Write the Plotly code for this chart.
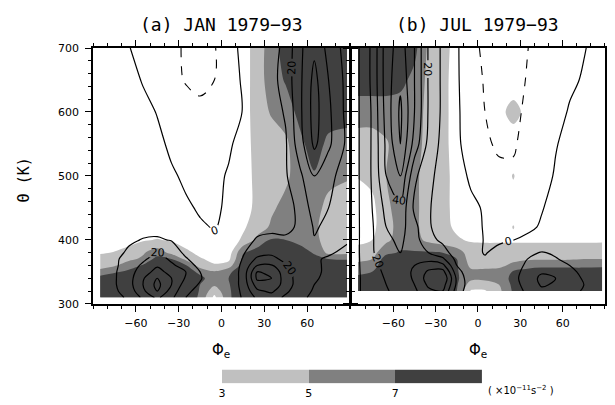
import plotly.graph_objects as go

# ---------------- data ----------------
lat = [-85, -75, -65, -55, -45, -35, -25, -15, -5, 5, 15, 25, 35, 45, 55, 65, 75, 88]

theta_jan = [310, 320, 330, 340, 350, 360, 370, 380, 400, 420, 450, 500, 550, 600, 650, 700]
shade_jan = [
    [8, 9, 9, 9, 9, 9, 9, 6.5, 2.5, 6.5, 9, 9, 9, 9, 9, 9, 9, 9],
    [8, 9, 9, 9, 9, 9, 9, 6.8, 3.8, 6.6, 9, 9, 9, 9, 9, 9, 9, 9],
    [8, 9, 9, 9, 9, 9, 9, 7.0, 5.3, 6.8, 9, 9, 9, 9, 9, 9, 9, 9],
    [8, 9, 9, 9, 9, 9, 9, 7.5, 6.0, 7.0, 9, 9, 9, 9, 9, 9, 9, 9],
    [5.5, 6.6, 7.5, 8.5, 9, 9, 8, 6.5, 5.2, 6.5, 8.5, 9, 9, 9, 9, 9, 9, 9],
    [4.4, 4.8, 6, 7.2, 8.5, 8, 7.2, 4, 3.2, 4, 8, 9, 9, 9, 9, 8.5, 8, 8],
    [3.8, 4.4, 4.6, 5.3, 7.8, 7, 4.5, 3.2, 2.5, 2.5, 7.5, 8.5, 8.5, 8.5, 8.5, 7.6, 7, 6.9],
    [2.8, 3.1, 3.8, 4.8, 6, 4.5, 3.5, 2.5, 2, 2, 6.8, 8, 8.5, 8.5, 8, 6.8, 4.5, 4.5],
    [2, 2, 2.2, 2.8, 3.1, 2.8, 2, 2, 2, 2, 3.3, 5.5, 7.2, 7, 6.3, 5.5, 4.2, 4],
    [2, 2, 2, 2, 2, 2, 2, 2, 2, 2, 2.7, 4, 5.3, 6, 6, 5.4, 4, 4],
    [2, 2, 2, 2, 2, 2, 2, 2, 2, 2, 2, 3.6, 4.7, 5.6, 6, 5.6, 4.5, 4],
    [2, 2, 2, 2, 2, 2, 2, 2, 2, 2, 2, 3.6, 4, 4.6, 6, 6.8, 5.5, 5.2],
    [2, 2, 2, 2, 2, 2, 2, 2, 2, 2, 2, 3.8, 4, 4.6, 6.5, 8, 6.5, 6],
    [2, 2, 2, 2, 2, 2, 2, 2, 2, 2, 2, 4, 5.2, 6, 7.6, 9, 8, 8],
    [2, 2, 2, 2, 2, 2, 2, 2, 2, 2, 2, 4, 6, 7.2, 8, 9, 8, 8],
    [2, 2, 2, 2, 2, 2, 2, 2, 2, 2, 2, 4, 6, 8, 8, 9, 8, 8],
]
wind_jan = [
    [5, 8, 11, 22, 32, 22, 10, 5, 3, 3, 11, 22, 25, 18, 12, 8, 5, 3],
    [5, 8.5, 14, 28, 40, 26, 12, 7, 3, 3, 12, 28, 32, 22, 14, 9, 6, 4],
    [5, 9, 16, 30, 43, 30, 15, 9, 3, 3, 13, 35, 38, 25, 15, 10, 7, 5],
    [5, 9, 16, 29, 40, 30, 19, 11, 3, 3, 13, 42, 40, 25, 15, 11, 8, 6],
    [5, 9, 15, 26, 33, 27, 20, 10, 3, 3, 13, 40, 38, 24, 15, 11, 9, 7],
    [5, 8.5, 14, 22, 29, 22, 15, 7, 2.5, 3, 12, 30, 31, 21, 14, 11, 9, 7],
    [5, 8.5, 13, 18, 25, 18, 11, 5, 2, 2.5, 10.5, 22, 23, 17, 13, 11, 9, 7],
    [6, 8, 11, 14, 21, 15, 8, 3, 1.5, 2, 9, 16, 18, 14, 12, 13, 11, 8],
    [7, 7.5, 9, 10.3, 11, 9.5, 5, 2, 0.5, 2, 6, 11, 12, 11, 11.5, 19.5, 15, 11],
    [8, 8, 8.5, 8, 7, 5, 2.5, 0.6, -0.3, 1.2, 4, 7, 8, 8.5, 11, 21, 18, 13],
    [8.5, 8.5, 8, 6, 4.5, 2.5, 0.8, -0.6, -0.6, 0.6, 3, 5.5, 7.5, 7, 12, 25, 20, 14],
    [9, 8, 6, 4, 2.5, 0.8, -1, -2, -1.3, 0.5, 3, 6, 8, 9, 18, 30, 23, 15],
    [9, 7, 5, 3, 1.5, -1.2, -3.5, -4.5, -3, -0.8, 2, 6, 8, 9, 26, 42, 32, 18],
    [8, 6, 4, 2, -0.3, -4, -7, -8, -6, -3, 0.2, 4.5, 6, 11, 28, 44, 32, 17],
    [7, 5, 2.5, -0.5, -4, -8, -10.5, -12, -10, -4, 1, 5, 7, 14, 28, 43, 30, 17],
    [6, 4, 0.5, -4, -7, -9, -10.5, -13, -10.5, -5, 3, 6, 6, 13, 28, 38, 27, 16],
]

theta_jul = [320, 330, 340, 350, 360, 370, 380, 400, 420, 450, 500, 550, 600, 650, 700]
shade_jul = [
    [8, 9, 9, 9, 9, 9, 9, 7, 2.8, 2.8, 4.5, 7.3, 9, 9, 9, 9, 9, 9],
    [8, 9, 9, 9, 9, 9, 9, 7.2, 4, 4, 5, 7.5, 9, 9, 9, 9, 9, 9],
    [7.5, 8, 9, 9, 9, 9, 9, 7.3, 5.5, 5.5, 6, 7.5, 9, 9, 9, 9, 9, 9],
    [6.5, 7, 9, 9, 9, 9, 9, 7.2, 5.5, 5.5, 5.8, 7.2, 8, 8, 8, 8, 8, 8],
    [5.5, 6, 8.5, 9, 9, 9, 9, 7.2, 4.5, 4.5, 4.5, 5.5, 6, 6.5, 6.5, 6.5, 6.5, 6.6],
    [4.6, 5, 8, 8.5, 8.5, 8.5, 8, 7, 4, 4, 4, 4.5, 4.8, 4.8, 4.8, 4.8, 5, 5],
    [3.8, 4.2, 6.5, 7.2, 7.2, 7.2, 7, 6, 4, 4, 4, 4, 4, 4, 4, 4, 4, 4.2],
    [2.5, 3, 4.5, 6, 5.7, 4.5, 3.8, 3.2, 2.8, 2.7, 2.7, 2.7, 2.7, 2.7, 2.7, 2.7, 2.7, 2.7],
    [2, 2.6, 4, 6, 5.5, 4, 3.5, 2.7, 2, 2, 2.2, 3.06, 2.2, 2, 2, 2, 2, 2],
    [2, 2.5, 4.5, 6, 5.5, 4, 3.5, 2.5, 2, 2, 2.2, 2.4, 2.2, 2, 2, 2, 2, 2],
    [3.1, 3.5, 5, 6, 5.5, 4, 3.5, 2.5, 2, 2, 2.2, 3.08, 2.2, 2, 2, 2, 2, 2],
    [4, 4, 4.8, 6, 5.8, 4.3, 3.5, 2.3, 2, 2, 2.2, 2.0, 2.2, 2, 2, 2, 2, 2],
    [6, 6, 6, 6, 5.8, 4.5, 3.5, 2.3, 2, 2, 2.5, 3.6, 2.5, 2, 2, 2, 2, 2],
    [8, 8, 8, 7.6, 6.4, 4.5, 3.5, 2.3, 2, 2, 2, 2.0, 2, 2, 2, 2, 2, 2],
    [8, 8, 8, 8, 7.6, 4.6, 3.6, 2.4, 2, 2, 2, 2, 2, 2, 2, 2, 2, 2],
]
wind_jul = [
    [9, 15, 19, 24, 28, 38, 40, 15, 4, 2, 3, 5, 12, 18, 16, 13, 9, 6],
    [9, 15, 20, 25, 30, 42, 45, 18, 4, 2, 3.5, 6, 14, 21, 19, 14, 10, 7],
    [9, 15, 21, 26, 31, 45, 50, 18, 3, 2, 4, 7, 15, 22, 20, 14, 9, 6],
    [9, 16, 22, 27, 31, 42, 44, 14, 3, 1.5, 3.5, 6, 14, 19, 17, 12, 8, 5],
    [9, 17, 23, 28, 30, 35, 33, 10, 2.5, 1, 2.5, 5, 12, 15, 13, 10, 7, 5],
    [9, 18, 24, 29, 28, 27, 22, 7, 2, 0.5, 2, 4.5, 10, 12, 10.5, 8, 6, 5],
    [9, 19, 26, 30, 27, 20, 14, 5, 1.5, -0.3, 1.5, 4, 8, 10.5, 9, 6, 5, 4.5],
    [9, 19, 28, 32, 24, 13, 8, 3, 1.3, -0.2, -0.8, -0.1, 1, 2, 3, 3.5, 4, 4],
    [9, 19, 30, 34, 23, 11, 6, 2.5, 1.2, -0.3, -1.5, -2, -1, 0.5, 2, 3, 3.5, 3.5],
    [9, 20, 33, 38, 18, 11, 5, 2, 1, -0.5, -3, -4, -2.5, -0.3, 1.5, 2.5, 3, 3],
    [9, 21, 40, 50, 22, 13, 5.5, 2, -0.8, -5, -8.5, -8.5, -5, -2, 0.5, 2, 3, 3],
    [9, 21, 42, 60, 36, 17, 7, 1, -2.5, -9, -11, -11, -7, -3, -0.3, 1.5, 2.5, 3],
    [9, 21, 44, 62, 40, 19, 8, 1, -3.5, -10, -12, -12, -8.5, -5, -2, 0.5, 2, 3],
    [9, 22, 45, 58, 40, 19, 8, 1, -5, -11, -13, -13, -9.5, -6.5, -3.5, -1, 0.5, 2.5],
    [9, 22, 45, 55, 40, 19, 8, 1.2, -7, -12, -14, -14, -10.2, -7, -4, -2, -0.3, 2],
]

shade_levels = [3, 5, 7]
bar_values = [4, 6, 8]
bar_edges = [3, 5, 7, 9]
x_ticks = [-60, -30, 0, 30, 60]
y_ticks = [300, 400, 500, 600, 700]
titles = ["(a) JAN 1979\u221293", "(b) JUL 1979\u221293"]

# ---------------- styling ----------------
GREYS = [[0, "#ffffff"], [0.25, "#ffffff"], [0.25, "#c0c0c0"], [0.5, "#c0c0c0"],
         [0.5, "#808080"], [0.75, "#808080"], [0.75, "#404040"], [1, "#404040"]]
FONT = "DejaVu Sans"
W, H = 615, 405
ML, MR, MT, MB = 85, 10, 40, 10
PW, PH = W - ML - MR, H - MT - MB


def px_x(p):
    return (p - ML) / PW


def px_y(p):
    return (H - MB - p) / PH


fig = go.Figure()


def add_panel(theta, shade, wind, xa, ya, lab_levels, plain_levels):
    fig.add_trace(go.Contour(
        x=lat, y=theta, z=shade, xaxis=xa, yaxis=ya,
        autocontour=False,
        contours=dict(start=shade_levels[0], end=shade_levels[-1],
                      size=shade_levels[1] - shade_levels[0], coloring="fill"),
        colorscale=GREYS, showscale=False, line=dict(width=0),
        hoverinfo="skip"))
    # negative (dashed)
    fig.add_trace(go.Contour(
        x=lat, y=theta, z=wind, xaxis=xa, yaxis=ya, autocontour=False,
        contours=dict(start=-10, end=-10, size=10, coloring="none"),
        line=dict(color="black", width=1.1, dash="dash"),
        showscale=False, hoverinfo="skip"))
    # zero line, labelled
    fig.add_trace(go.Contour(
        x=lat, y=theta, z=wind, xaxis=xa, yaxis=ya, autocontour=False,
        contours=dict(start=0, end=0, size=10, coloring="none", showlabels=True,
                      labelfont=dict(family=FONT, size=11, color="black")),
        line=dict(color="black", width=1.2),
        showscale=False, hoverinfo="skip"))
    for (s, e, d) in lab_levels:
        fig.add_trace(go.Contour(
            x=lat, y=theta, z=wind, xaxis=xa, yaxis=ya, autocontour=False,
            contours=dict(start=s, end=e, size=d, coloring="none", showlabels=True,
                          labelfont=dict(family=FONT, size=11, color="black")),
            line=dict(color="black", width=1.2),
            showscale=False, hoverinfo="skip"))
    for (s, e, d) in plain_levels:
        fig.add_trace(go.Contour(
            x=lat, y=theta, z=wind, xaxis=xa, yaxis=ya, autocontour=False,
            contours=dict(start=s, end=e, size=d, coloring="none"),
            line=dict(color="black", width=1.2),
            showscale=False, hoverinfo="skip"))


add_panel(theta_jan, shade_jan, wind_jan, "x", "y",
          [(20, 20, 10)], [(10, 10, 10), (30, 60, 10)])
add_panel(theta_jul, shade_jul, wind_jul, "x2", "y2",
          [(20, 40, 20)], [(10, 30, 20), (50, 70, 10)])

# colour bar drawn as a one-row heatmap
fig.add_trace(go.Heatmap(
    z=[bar_values], x=bar_edges, y=[0], xaxis="x3", yaxis="y3",
    colorscale=GREYS, zmin=2, zmax=8, showscale=False, hoverinfo="skip"))

ydom = [px_y(301), 1]
axis_common = dict(
    showgrid=False, zeroline=False, showline=True, linecolor="black", linewidth=1.5,
    mirror="ticks", ticks="outside", ticklen=6, tickwidth=1.2, tickcolor="black",
    tickfont=dict(family=FONT, size=11, color="black"),
)
xcommon = dict(axis_common, range=[-90, 90], tickmode="array", tickvals=x_ticks,
               ticklabelstandoff=2,
               minor=dict(tickmode="linear", tick0=0, dtick=10, ticklen=3,
                          ticks="outside", tickcolor="black", tickwidth=1))
ycommon = dict(axis_common, range=[300, 700], tickmode="array", tickvals=y_ticks,
               domain=ydom, ticklabelstandoff=4,
               minor=dict(tickmode="linear", tick0=300, dtick=20, ticklen=3,
                          ticks="outside", tickcolor="black", tickwidth=1))

fig.update_layout(
    width=W, height=H, margin=dict(l=ML, r=MR, t=MT, b=MB),
    paper_bgcolor="white", plot_bgcolor="white", showlegend=False,
    xaxis=dict(xcommon, domain=[0, px_x(346)], anchor="y"),
    yaxis=dict(ycommon, anchor="x"),
    xaxis2=dict(xcommon, domain=[px_x(347), 1], anchor="y2"),
    yaxis2=dict(ycommon, anchor="x2", showticklabels=False),
    xaxis3=dict(domain=[px_x(216), px_x(480)], anchor="y3", range=[3, 9],
                tickmode="array", tickvals=shade_levels, ticks="", showline=False,
                showgrid=False, zeroline=False, ticklabelstandoff=2,
                tickfont=dict(family=FONT, size=11, color="black")),
    yaxis3=dict(domain=[px_y(382), px_y(368)], anchor="x3", range=[-0.5, 0.5],
                visible=False),
)

ann = []
for i, t in enumerate(titles):
    cx = px_x(215.5) if i == 0 else px_x(476)
    ann.append(dict(text=t, x=cx, y=px_y(16), xref="paper", yref="paper",
                    showarrow=False, xanchor="center", yanchor="middle",
                    font=dict(family="DejaVu Sans Mono", size=18, color="black")))
    ann.append(dict(text="\u03a6<sub>e</sub>", x=cx, y=px_y(349), xref="paper",
                    yref="paper", showarrow=False, xanchor="center", yanchor="middle",
                    font=dict(family=FONT, size=15, color="black")))
ann.append(dict(text="\u0398 (K)", x=px_x(15), y=px_y(175), xref="paper", yref="paper",
                showarrow=False, textangle=-90, xanchor="center", yanchor="middle",
                font=dict(family="DejaVu Sans Mono", size=15, color="black")))
ann.append(dict(text="( \u00d710<sup>\u221211</sup>s<sup>\u22122</sup> )",
                x=px_x(484), y=px_y(389), xref="paper", yref="paper",
                showarrow=False, xanchor="left", yanchor="middle",
                font=dict(family=FONT, size=10, color="black")))
fig.update_layout(annotations=ann)

fig.write_html("out.html")
